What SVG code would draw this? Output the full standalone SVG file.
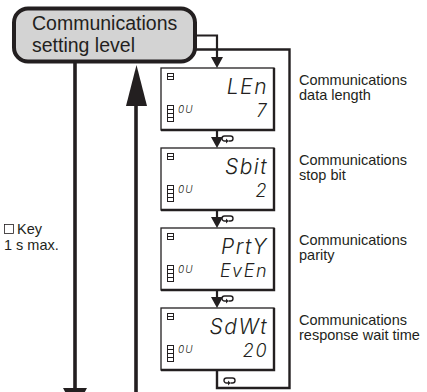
<svg xmlns="http://www.w3.org/2000/svg" width="427" height="392" viewBox="0 0 427 392">
<style>
  .ln { stroke:#231f20; fill:none; }
  .ah { fill:#231f20; stroke:none; }
  .lbl { font-family:"Liberation Sans", Arial, sans-serif; font-size:14.5px; fill:#231f20; }
  .big { font-family:"Liberation Sans", Arial, sans-serif; font-size:19.5px; fill:#231f20; }
  .disp { fill:#fff; stroke:#231f20; stroke-width:1.3; }
  .shadow { fill:none; stroke:#231f20; stroke-width:2.4; }
  .seg { font-family:Inter, "DejaVu Sans", sans-serif; font-weight:300; font-style:oblique; fill:#231f20; text-anchor:end; letter-spacing:1.5px; }
  .ou { font-family:Inter, "DejaVu Sans", sans-serif; font-weight:300; font-style:oblique; font-size:10px; fill:#231f20; letter-spacing:1px; }
  .ico { fill:none; stroke:#231f20; stroke-width:1; }
  .cyc { fill:none; stroke:#231f20; stroke-width:1.4; }
</style>
<defs>
  <g id="icons">
    <rect class="ico" x="0.5" y="0.5" width="6" height="6"/>
    <line class="ico" x1="0.5" y1="3.5" x2="6.5" y2="3.5"/>
    <rect class="ico" x="0.5" y="32.5" width="6" height="16"/>
    <line class="ico" x1="0.5" y1="36.5" x2="6.5" y2="36.5"/>
    <line class="ico" x1="0.5" y1="40.5" x2="6.5" y2="40.5"/>
    <line class="ico" x1="0.5" y1="44.5" x2="6.5" y2="44.5"/>
  </g>
  <g id="cycle">
    <path class="cyc" d="M4,6 H2.5 A2.5,2.5 0 0 1 2.5,1 H8.5 A2.5,2.5 0 0 1 8.5,6 H6.5"/>
    <path class="ah" d="M4,3.6 L6.6,6 L4,8.4 Z"/>
  </g>
</defs>

<g id="connectors">
  <line class="ln" x1="75" y1="63" x2="75" y2="392" stroke-width="3.6"/>
  <polygon class="ah" points="63,388 87,388 75,410"/>
  <line class="ln" x1="136" y1="100" x2="136" y2="392" stroke-width="3.6"/>
  <polygon class="ah" points="126,106 147,106 136.5,65"/>
  <polyline class="ln" points="196,35.5 217,35.5 217,60" stroke-width="2.2"/>
  <polygon class="ah" points="211,57 223,57 217,68"/>
  <line class="ln" x1="217" y1="130" x2="217" y2="140" stroke-width="2.2"/>
  <polygon class="ah" points="211,137 223,137 217,148"/>
  <line class="ln" x1="217" y1="210" x2="217" y2="220" stroke-width="2.2"/>
  <polygon class="ah" points="211,217 223,217 217,228"/>
  <line class="ln" x1="217" y1="290" x2="217" y2="300" stroke-width="2.2"/>
  <polygon class="ah" points="211,297 223,297 217,308"/>
  <polyline class="ln" points="217,370 217,388 289.5,388 289.5,49.5 196,49.5" stroke-width="2.4"/>
  <use href="#cycle" x="222" y="135"/>
  <use href="#cycle" x="222" y="215"/>
  <use href="#cycle" x="222" y="295"/>
  <use href="#cycle" x="224" y="377"/>
</g>

<g id="level">
  <rect x="14" y="8.5" width="181" height="53" rx="14" ry="14" fill="#d3d3d3" stroke="#231f20" stroke-width="4"/>
  <text class="big" x="32" y="30">Communications</text>
  <text class="big" x="32" y="52">setting level</text>
</g>

<g id="key-note">
  <rect x="4.5" y="224.5" width="9" height="9" fill="none" stroke="#231f20" stroke-width="0.8"/>
  <text class="lbl" x="17" y="234" font-size="13">Key</text>
  <text class="lbl" x="4" y="250" font-size="13">1 s max.</text>
</g>

<g id="len">
  <rect class="disp" x="161" y="68" width="113" height="62"/>
  <polyline class="shadow" points="274,68 274,130 161,130"/>
  <use href="#icons" x="167" y="73"/>
  <text class="ou" x="178" y="113">0U</text>
  <text class="seg" x="268" y="94" font-size="21">LEn</text>
  <text class="seg" x="268" y="117" font-size="18">7</text>
  <text class="lbl" x="299" y="85">Communications</text>
  <text class="lbl" x="299" y="100">data length</text>
</g>

<g id="sbit">
  <rect class="disp" x="161" y="148" width="113" height="62"/>
  <polyline class="shadow" points="274,148 274,210 161,210"/>
  <use href="#icons" x="167" y="153"/>
  <text class="ou" x="178" y="193">0U</text>
  <text class="seg" x="268" y="174" font-size="21">Sbit</text>
  <text class="seg" x="268" y="197" font-size="18">2</text>
  <text class="lbl" x="299" y="165">Communications</text>
  <text class="lbl" x="299" y="180">stop bit</text>
</g>

<g id="prty">
  <rect class="disp" x="161" y="228" width="113" height="62"/>
  <polyline class="shadow" points="274,228 274,290 161,290"/>
  <use href="#icons" x="167" y="233"/>
  <text class="ou" x="178" y="273">0U</text>
  <text class="seg" x="268" y="254" font-size="21">PrtY</text>
  <text class="seg" x="268" y="277" font-size="18">EvEn</text>
  <text class="lbl" x="299" y="245">Communications</text>
  <text class="lbl" x="299" y="260">parity</text>
</g>

<g id="sdwt">
  <rect class="disp" x="161" y="308" width="113" height="62"/>
  <polyline class="shadow" points="274,308 274,370 161,370"/>
  <use href="#icons" x="167" y="313"/>
  <text class="ou" x="178" y="353">0U</text>
  <text class="seg" x="268" y="334" font-size="21">SdWt</text>
  <text class="seg" x="268" y="357" font-size="18">20</text>
  <text class="lbl" x="299" y="325">Communications</text>
  <text class="lbl" x="299" y="340">response wait time</text>
</g>
</svg>
